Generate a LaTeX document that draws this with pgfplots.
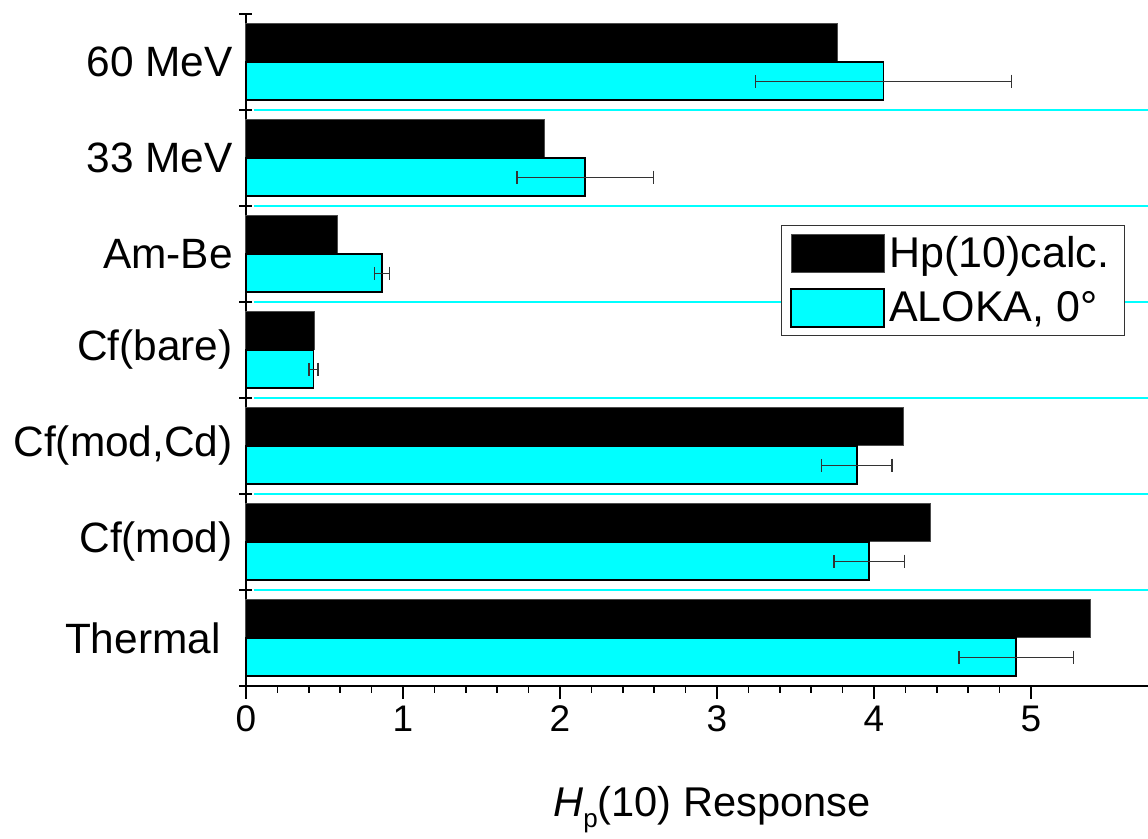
\documentclass[border=0pt]{standalone}
\usepackage{pgfplots}
\pgfplotsset{compat=1.18}
\usepackage{fontspec}
\setmainfont{Liberation Sans}
\definecolor{aqua}{RGB}{0,255,255}
\pgfplotstableread{
y x
0.2 5.38
1.2 4.36
2.2 4.19
3.2 0.437
4.2 0.58
5.2 1.90
6.2 3.77
}\calc
\pgfplotstableread{
y x e
-0.2 4.906 0.365
0.8 3.97 0.225
1.8 3.89 0.225
2.8 0.43 0.03
3.8 0.866 0.047
4.8 2.16 0.435
5.8 4.06 0.815
}\aloka
\begin{document}
\begin{tikzpicture}
\useasboundingbox (-123pt,-76.5pt) rectangle (451pt,343pt);
\begin{axis}[
 at={(0pt,0pt)}, anchor=south west,
 scale only axis, width=451pt, height=336pt,
 xmin=0, xmax=5.745, ymin=-0.5, ymax=6.5,
 axis x line=bottom, axis y line=left,
 axis line style={-, line width=1pt},
 clip=false,
 xtick={0,...,5}, minor x tick num=4,
 tick align=outside,
 major tick length=6.5pt, minor tick length=3.5pt,
 xtick style={line width=0.75pt, black},
 ytick={-0.5,0.5,...,6.5}, yticklabels={},
 ytick style={line width=1.25pt, black, xshift=3.25pt},
 extra y ticks={0,...,6},
 extra y tick labels={Thermal\hspace*{6pt},Cf(mod),{Cf(mod,Cd)},Cf(bare),Am-Be,33 MeV,60 MeV},
 extra y tick style={ytick style={draw=none}, major tick length=0pt},
 yticklabel style={font=\fontsize{21.2}{25}\selectfont, inner sep=0pt, xshift=-6.5pt},
 xticklabel style={font=\fontsize{18.5}{20}\selectfont},
 /pgf/number format/assume math mode=true,
 xlabel={{\itshape H}\raisebox{-5.5pt}{\fontsize{13}{13}\selectfont p}(10) Response},
 xlabel style={at={(axis description cs:0.5166,0)}, anchor=base, yshift=-65.5pt, font=\fontsize{20.8}{24}\selectfont},
 legend style={at={(axis description cs:0.5931,0.686)}, anchor=north west,
   draw=black!80, line width=0.5pt, fill=white, inner xsep=4.5pt, inner ysep=3.5pt,
   font=\fontsize{21.5}{24}\selectfont, row sep=6.5pt,
   /tikz/every even column/.append style={column sep=9.5pt}},
 legend cell align=left,
 legend image code/.code={\draw[#1] (0pt,-9.5pt) rectangle (46.5pt,9.5pt);},
]
\draw[aqua, line width=1.25pt] (axis cs:0.05,0.5) -- (axis cs:5.745,0.5);
\draw[aqua, line width=1.25pt] (axis cs:0.05,1.5) -- (axis cs:5.745,1.5);
\draw[aqua, line width=1.25pt] (axis cs:0.05,2.5) -- (axis cs:5.745,2.5);
\draw[aqua, line width=1.25pt] (axis cs:0.05,3.5) -- (axis cs:5.745,3.5);
\draw[aqua, line width=1.25pt] (axis cs:0.05,4.5) -- (axis cs:5.745,4.5);
\draw[aqua, line width=1.25pt] (axis cs:0.05,5.5) -- (axis cs:5.745,5.5);
\addplot[xbar, bar width=0.4, fill=black, draw=black!70, line width=0.5pt] table[x=x, y=y] {\calc};
\addplot[xbar, bar width=0.4, fill=aqua, draw=black, line width=0.9pt,
  error bars/.cd, x dir=both, x explicit, error mark=|,
  error bar style={black!80, line width=0.6pt},
  error mark options={mark size=3.25pt, line width=0.75pt, black!80}]
  table[x=x, y=y, x error=e] {\aloka};
\legend{Hp(10)calc.\hspace*{1pt}, {ALOKA, 0°}}
\end{axis}
\end{tikzpicture}
\end{document}
